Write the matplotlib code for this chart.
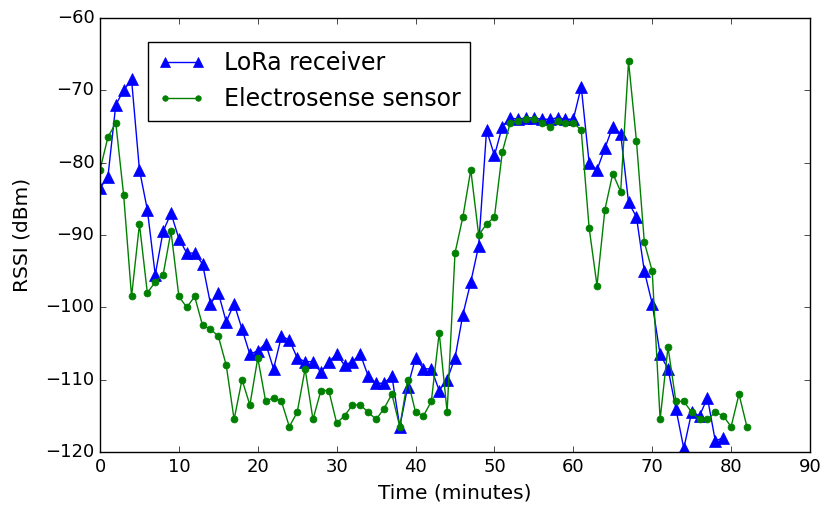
import matplotlib
matplotlib.use("Agg")
import matplotlib.pyplot as plt

minutes_lora = list(range(0, 80))
lora = [-83.5, -82, -72, -70, -68.5, -81, -86.5, -95.5, -89.5, -87,
        -90.5, -92.5, -92.5, -94, -99.5, -98, -102, -99.5, -103, -106.5,
        -106, -105, -108.5, -104, -104.5, -107, -107.5, -107.5, -109, -107.5,
        -106.5, -108, -107.5, -106.5, -109.5, -110.5, -110.5, -109.5, -116.5, -111,
        -107, -108.5, -108.5, -111.5, -110, -107, -101, -96.5, -91.5, -75.5,
        -79, -75, -73.8, -74, -73.8, -73.8, -74, -74, -73.8, -74,
        -74, -69.5, -80, -81, -78, -75, -76, -85.5, -87.5, -95,
        -99.5, -106.5, -108.5, -114, -119.5, -114.5, -115, -112.5, -118.5, -118]

minutes_es = list(range(0, 83))
electrosense = [-81, -76.5, -74.5, -84.5, -98.5, -88.5, -98, -96.5, -95.5, -89.5,
                -98.5, -100, -98.5, -102.5, -103, -104, -108, -115.5, -110, -113.5,
                -107, -113, -112.5, -113, -116.5, -114.5, -108.5, -115.5, -111.5, -111.5,
                -116, -115, -113.5, -113.5, -114.5, -115.5, -114, -112, -116.5, -110,
                -114.5, -115, -113, -103.5, -114.5, -92.5, -87.5, -81, -90, -88.5,
                -87.5, -78.5, -74.5, -74.2, -74, -74, -74.5, -75, -74.3, -74.5,
                -74.5, -75.5, -89, -97, -86.5, -81.5, -84, -66, -77, -91,
                -95, -115.5, -105.5, -113, -113, -114.5, -115.5, -115.5, -114.5, -115,
                -116.5, -112, -116.5]

plt.style.use('classic')
plt.rcParams['font.family'] = ['DejaVu Sans']

fig = plt.figure(figsize=(8.24, 5.09), dpi=100, facecolor='white')
ax = fig.add_axes([100/824, 1 - 452/509, 710/824, 434/509])
ax.plot(minutes_lora, lora, 'b-^', markersize=8.5, markeredgecolor='b', linewidth=1, label='LoRa receiver')
ax.plot(minutes_es, electrosense, 'g-o', markersize=5, markeredgecolor='g', linewidth=1, label='Electrosense sensor')
ax.set_xlim(0, 90)
ax.set_ylim(-120, -60)
ax.set_xlabel('Time (minutes)', fontsize=14.5, labelpad=6)
ax.set_ylabel('RSSI (dBm)', fontsize=14.5, labelpad=10)
ax.tick_params(labelsize=13)
leg = ax.legend(loc='upper left', bbox_to_anchor=(48/710, 410/434), borderaxespad=0,
                fontsize=17, numpoints=2, fancybox=False, markerscale=0.8)
leg.get_frame().set_edgecolor('black')
fig.savefig('out.png', dpi=100, facecolor='white')
